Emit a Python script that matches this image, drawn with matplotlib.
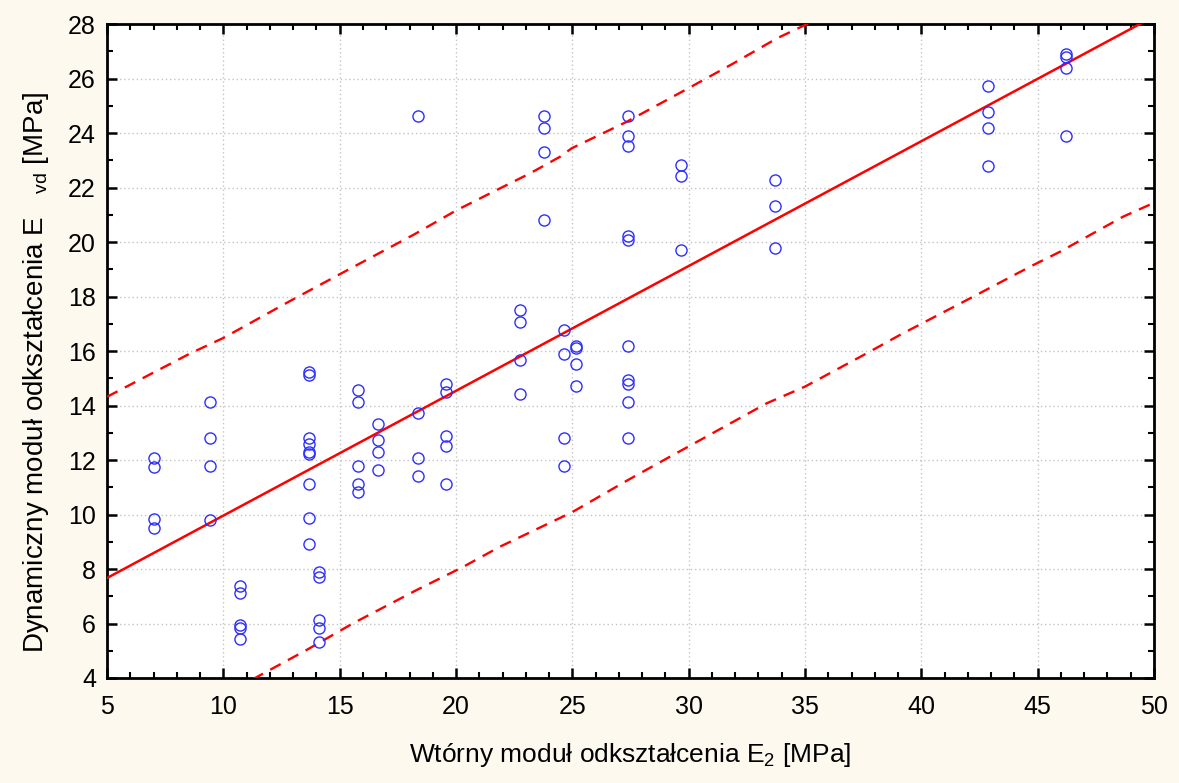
import numpy as np
import matplotlib
matplotlib.use("Agg")
import matplotlib.pyplot as plt
from matplotlib.ticker import MultipleLocator
from matplotlib import font_manager

# ---- data ----
e2 = [7.02, 7.02, 7.02, 7.02,
      9.43, 9.43, 9.43, 9.43,
      10.72, 10.72, 10.72, 10.72, 10.72,
      13.69, 13.69, 13.69, 13.69, 13.69, 13.69, 13.69, 13.69, 13.69,
      14.12, 14.12, 14.12, 14.12, 14.12,
      15.77, 15.77, 15.77, 15.77, 15.77,
      16.63, 16.63, 16.63, 16.63,
      18.37, 18.37, 18.37, 18.37,
      19.57, 19.57, 19.57, 19.57, 19.57,
      22.75, 22.75, 22.75, 22.75,
      23.77, 23.77, 23.77, 23.77,
      24.62, 24.62, 24.62, 24.62,
      25.14, 25.14, 25.14, 25.14,
      27.37, 27.37, 27.37, 27.37, 27.37, 27.37, 27.37, 27.37, 27.37, 27.37,
      29.69, 29.69, 29.69,
      33.72, 33.72, 33.72,
      42.85, 42.85, 42.85, 42.85,
      46.20, 46.20, 46.20, 46.20]
evd = [12.06, 11.75, 9.82, 9.52,
       14.14, 12.82, 11.79, 9.80,
       7.39, 7.11, 5.94, 5.82, 5.42,
       15.24, 15.12, 12.82, 12.58, 12.31, 12.21, 11.13, 9.88, 8.93,
       7.90, 7.69, 6.13, 5.82, 5.33,
       14.58, 14.14, 11.79, 11.13, 10.84,
       13.33, 12.73, 12.31, 11.64,
       24.63, 13.71, 12.08, 11.42,
       14.80, 14.51, 12.89, 12.53, 11.13,
       17.52, 17.08, 15.68, 14.43,
       24.63, 24.20, 23.31, 20.82,
       16.78, 15.90, 12.82, 11.79,
       16.19, 16.12, 15.53, 14.73,
       24.63, 23.90, 23.54, 20.23, 20.09, 16.19, 14.95, 14.80, 14.14, 12.82,
       22.81, 22.44, 19.72,
       22.29, 21.34, 19.79,
       25.74, 24.79, 24.20, 22.80,
       26.91, 26.80, 26.40, 23.90]

# regression line
fit_x = [5, 50]
fit_y = [7.67, 28.28]

# 95% prediction limits
upper_x = [5.0, 8.57, 10.0, 12.94, 14.94, 18.16, 20.03, 21.89, 23.18,
           24.47, 24.97, 27.33, 29.98, 31.91, 33.78, 34.99, 36.0]
upper_y = [14.32, 15.91, 16.48, 17.87, 18.79, 20.26, 21.17, 21.97, 22.52,
           23.13, 23.44, 24.41, 25.64, 26.55, 27.47, 27.96, 28.4]
lower_x = [10.5, 11.36, 13.58, 15.58, 18.31, 20.31, 21.89, 25.0, 27.4,
           29.19, 29.98, 33.35, 34.99, 37.64, 39.08, 42.22, 44.66, 45.95,
           48.67, 50.0]
lower_y = [3.6, 4.0, 5.03, 6.01, 7.23, 8.08, 8.82, 10.09, 11.27,
           12.12, 12.49, 14.08, 14.69, 15.91, 16.59, 17.99, 19.09, 19.64,
           20.93, 21.44]

x_ticks = [5, 10, 15, 20, 25, 30, 35, 40, 45, 50]
y_ticks = [4, 6, 8, 10, 12, 14, 16, 18, 20, 22, 24, 26, 28]
x_label = "Wtórny moduł odkształcenia E$_2$ [MPa]"
y_label = "Dynamiczny moduł odkształcenia E   $_{\\mathrm{vd}}$ [MPa]"

# ---- fonts ----
names = {f.name for f in font_manager.fontManager.ttflist}
base = "Liberation Sans" if "Liberation Sans" in names else "DejaVu Sans"
plt.rcParams["font.family"] = [base, "DejaVu Sans"]
plt.rcParams["mathtext.fontset"] = "custom"
plt.rcParams["mathtext.rm"] = base
plt.rcParams["mathtext.it"] = base + ":italic"

fig = plt.figure(figsize=(11.79, 7.83), dpi=100, facecolor="#FDF9EE")
ax = fig.add_axes([0.0908, 0.1341, 0.888, 0.8352])
ax.set_facecolor("white")

red = "#FF0000"
ax.plot(fit_x, fit_y, color=red, lw=1.8, zorder=3)
ax.plot(upper_x, upper_y, color=red, lw=1.7, ls=(0, (5, 3.5)), zorder=3)
ax.plot(lower_x, lower_y, color=red, lw=1.7, ls=(0, (5, 3.5)), zorder=3)
ax.plot(e2, evd, ls="none", marker="o", ms=8, mfc="none", mec="#2E2EFF",
        mew=1.0, zorder=4)

ax.set_xlim(5, 50)
ax.set_ylim(4, 28)
ax.set_xticks(x_ticks)
ax.set_yticks(y_ticks)
ax.xaxis.set_minor_locator(MultipleLocator(1))
ax.yaxis.set_minor_locator(MultipleLocator(1))
ax.tick_params(which="both", direction="in", top=True, right=True,
               color="black")
ax.tick_params(which="major", length=7, width=1.8, labelsize=18)
ax.tick_params(which="minor", length=4, width=1.5)
ax.tick_params(axis="x", which="major", pad=12)
ax.tick_params(axis="y", which="major", pad=8)
ax.grid(True, which="major", color="#C4C4C4", ls=(0, (1, 2)), lw=1.0)
ax.set_axisbelow(True)
for sp in ax.spines.values():
    sp.set_linewidth(2.0)
    sp.set_color("black")

ax.set_xlabel(x_label, fontsize=19, labelpad=16)
ax.set_ylabel(y_label, fontsize=20, labelpad=12)
ax.yaxis.label.set_y(0.467)

fig.savefig("out.png", dpi=100, facecolor=fig.get_facecolor())
